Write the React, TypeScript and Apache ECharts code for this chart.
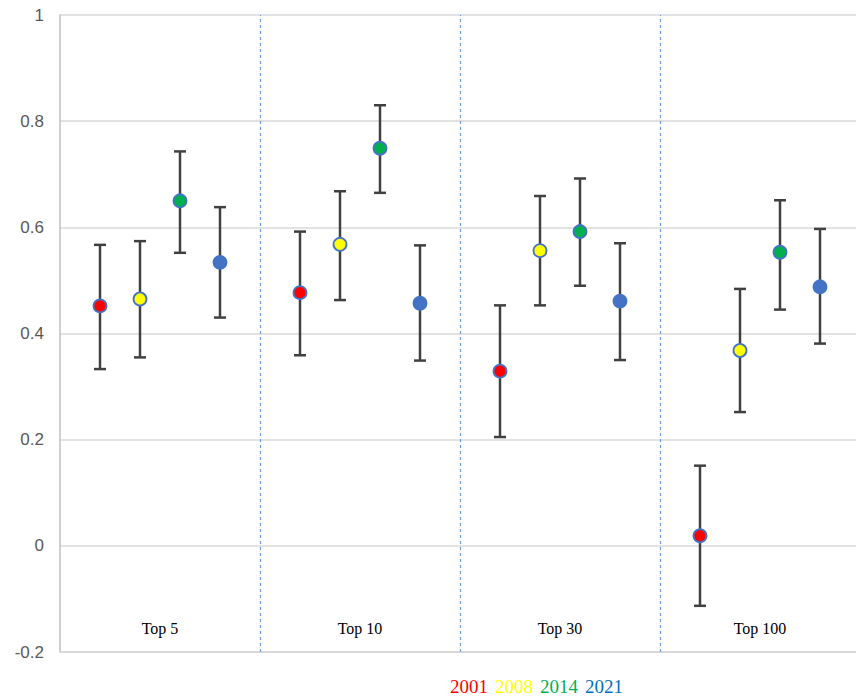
import React, { useEffect, useRef } from "react";
import * as echarts from "echarts";

const categories = ["Top 5", "Top 10", "Top 30", "Top 100"];
const years = ["2001", "2008", "2014", "2021"];
const yearColors = ["#ff0000", "#ffff00", "#00b050", "#4472c4"];
const legendColors = ["#ff0000", "#ffff00", "#00b050", "#0070c0"];

const mean2001 = [0.452, 0.477, 0.329, 0.019];
const mean2008 = [0.465, 0.568, 0.556, 0.368];
const mean2014 = [0.65, 0.749, 0.592, 0.553];
const mean2021 = [0.534, 0.457, 0.461, 0.488];

const upper2001 = [0.567, 0.592, 0.453, 0.151];
const upper2008 = [0.574, 0.668, 0.659, 0.484];
const upper2014 = [0.743, 0.83, 0.692, 0.651];
const upper2021 = [0.638, 0.566, 0.57, 0.597];

const lower2001 = [0.333, 0.359, 0.205, -0.113];
const lower2008 = [0.355, 0.463, 0.453, 0.252];
const lower2014 = [0.552, 0.665, 0.49, 0.445];
const lower2021 = [0.43, 0.349, 0.35, 0.381];

const yTicks = [-0.2, 0, 0.2, 0.4, 0.6, 0.8, 1];

const means = [mean2001, mean2008, mean2014, mean2021];
const uppers = [upper2001, upper2008, upper2014, upper2021];
const lowers = [lower2001, lower2008, lower2014, lower2021];

const SLOTS_PER_GROUP = 5;

export default function App() {
  const ref = useRef<HTMLDivElement>(null);
  useEffect(() => {
    if (!ref.current) return;
    const chart = echarts.init(ref.current, null, { renderer: "svg" });

    const xPos = (g: number, y: number) => g * SLOTS_PER_GROUP + y + 1;

    const errData: number[][] = [];
    years.forEach((_, yi) => {
      categories.forEach((_, gi) => {
        errData.push([xPos(gi, yi), lowers[yi][gi], uppers[yi][gi]]);
      });
    });

    const labelMap: Record<string, string> = {};
    categories.forEach((c, gi) => {
      labelMap[String(gi * SLOTS_PER_GROUP + SLOTS_PER_GROUP / 2)] = c;
    });

    const scatterSeries = years.map((yr, yi) => ({
      name: yr,
      type: "scatter",
      symbol: "circle",
      symbolSize: 13,
      z: 5,
      itemStyle: {
        color: yearColors[yi],
        borderColor: "#4472c4",
        borderWidth: 1.8,
        opacity: 1,
      },
      data: categories.map((_, gi) => [xPos(gi, yi), means[yi][gi]]),
    }));

    // plot area extends slightly past the right edge of the picture (width 800 px for 20 slots)
    const visibleMax = (SLOTS_PER_GROUP * categories.length * 796) / 800;

    chart.setOption({
      animation: false,
      backgroundColor: "#ffffff",
      grid: { left: 60, top: 15, right: 0, height: 637 },
      legend: {
        left: 450,
        top: 677,
        padding: 0,
        icon: "none",
        itemWidth: 0,
        itemHeight: 0,
        itemGap: 7,
        selectedMode: false,
        textStyle: {
          fontFamily: "Liberation Serif",
          fontSize: 19,
          lineHeight: 19,
          padding: [0, 0, 0, -5],
        },
        data: years.map((yr, yi) => ({
          name: yr,
          textStyle: { color: legendColors[yi] },
        })),
      },
      xAxis: {
        type: "value",
        min: 0,
        max: visibleMax,
        interval: SLOTS_PER_GROUP / 2,
        axisLine: { show: true, onZero: false, lineStyle: { color: "#d9d9d9", width: 2 } },
        axisTick: { show: false },
        splitLine: { show: false },
        axisLabel: {
          inside: true,
          margin: 16,
          color: "#000000",
          fontFamily: "Liberation Serif",
          fontSize: 16,
          showMaxLabel: false,
          formatter: (v: number) => labelMap[String(v)] || "",
        },
      },
      yAxis: {
        type: "value",
        min: yTicks[0],
        max: yTicks[yTicks.length - 1],
        interval: 0.2,
        axisLine: { show: true, lineStyle: { color: "#bfbfbf", width: 1.5 } },
        axisTick: { show: false },
        splitLine: { show: true, lineStyle: { color: "#d9d9d9", width: 1.5 } },
        axisLabel: {
          color: "#595959",
          fontFamily: "Liberation Sans",
          fontSize: 17,
          margin: 16,
          formatter: (v: number) => String(Math.round(v * 10) / 10),
        },
      },
      series: [
        {
          type: "custom",
          name: "errors",
          z: 3,
          silent: true,
          renderItem: (params: any, api: any) => {
            const x = api.value(0);
            const lo = api.coord([x, api.value(1)]);
            const hi = api.coord([x, api.value(2)]);
            const cap = 6;
            const style = { stroke: "#404040", lineWidth: 2.5 };
            return {
              type: "group",
              children: [
                { type: "line", shape: { x1: lo[0], y1: lo[1], x2: hi[0], y2: hi[1] }, style },
                { type: "line", shape: { x1: lo[0] - cap, y1: lo[1], x2: lo[0] + cap, y2: lo[1] }, style },
                { type: "line", shape: { x1: hi[0] - cap, y1: hi[1], x2: hi[0] + cap, y2: hi[1] }, style },
              ],
            };
          },
          encode: { x: 0, y: [1, 2] },
          data: errData,
          markLine: {
            silent: true,
            symbol: "none",
            label: { show: false },
            lineStyle: { color: "#6f9be0", type: [3, 3], width: 1.2 },
            data: categories.slice(1).map((_, i) => ({ xAxis: (i + 1) * SLOTS_PER_GROUP })),
          },
        },
        ...scatterSeries,
      ],
    });
    return () => chart.dispose();
  }, []);
  return (
    <div
      ref={ref}
      style={{ position: "fixed", left: 0, top: 0, width: 856, height: 699 }}
    />
  );
}
